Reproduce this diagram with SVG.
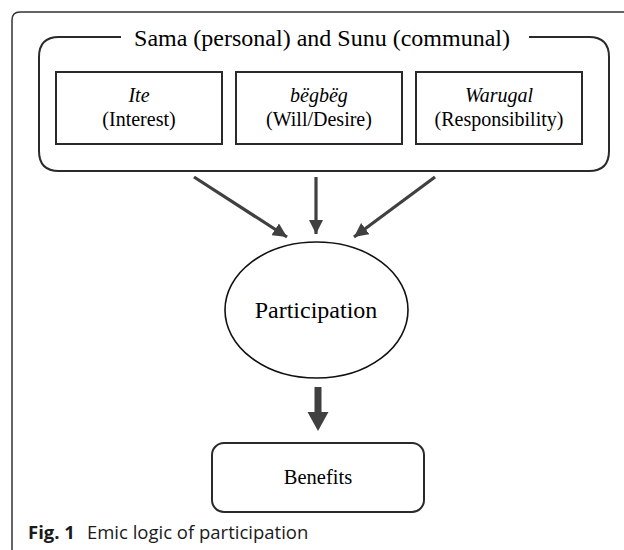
<svg xmlns="http://www.w3.org/2000/svg" width="624" height="550" viewBox="0 0 624 550">
<defs>
<style>
.serif{font-family:"Liberation Serif","Times New Roman",serif;fill:#000;}
.box{fill:none;stroke:#2a2a2a;stroke-width:2;}
.arr{stroke:#404040;stroke-width:3.2;fill:none;}
.cap{font-family:"Open Sans","Noto Sans",sans-serif;font-size:18.5px;fill:#1a1a1a;}
</style>
<marker id="ah" viewBox="0 0 10 10" refX="10" refY="5" markerWidth="4.4" markerHeight="4.4" markerUnits="strokeWidth" orient="auto">
<path d="M0,0 L10,5 L0,10 Z" fill="#404040"/>
</marker>
</defs>
<rect width="624" height="550" fill="#fff"/>
<g id="frame">
<path d="M12,550 L12,20 Q12,12 20,12 L624,12" fill="none" stroke="#333" stroke-width="1.5"/>
</g>
<g id="container">
<path d="M121,37 L59,37 Q39,37 39,57 L39,151 Q39,171 59,171 L589,171 Q609,171 609,151 L609,57 Q609,37 589,37 L529,37" class="box"/>
<text class="serif" x="322" y="46" font-size="24" text-anchor="middle">Sama (personal) and Sunu (communal)</text>
</g>
<g id="ite">
<rect x="56" y="72" width="166" height="72" class="box"/>
<text class="serif" x="139" y="102" font-size="20" text-anchor="middle" font-style="italic">Ite</text>
<text class="serif" x="139" y="126" font-size="20" text-anchor="middle">(Interest)</text>
</g>
<g id="begbeg">
<rect x="236" y="72" width="166" height="72" class="box"/>
<text class="serif" x="319" y="102" font-size="20" text-anchor="middle" font-style="italic">bëgbëg</text>
<text class="serif" x="319" y="126" font-size="20" text-anchor="middle">(Will/Desire)</text>
</g>
<g id="warugal">
<rect x="416" y="72" width="166" height="72" class="box"/>
<text class="serif" x="499" y="102" font-size="20" text-anchor="middle" font-style="italic">Warugal</text>
<text class="serif" x="499" y="126" font-size="20" text-anchor="middle">(Responsibility)</text>
</g>
<g id="participation">
<ellipse cx="316.5" cy="310" rx="91.5" ry="68" fill="none" stroke="#111" stroke-width="1.6"/>
<text class="serif" x="316" y="318" font-size="24" text-anchor="middle">Participation</text>
</g>
<g id="benefits">
<rect x="212" y="443" width="212" height="69" rx="12" ry="12" class="box"/>
<text class="serif" x="318" y="484" font-size="20.5" text-anchor="middle">Benefits</text>
</g>
<g id="connectors">
<line x1="194" y1="177" x2="287" y2="237" class="arr" marker-end="url(#ah)"/>
<line x1="316" y1="177" x2="316" y2="234" class="arr" marker-end="url(#ah)"/>
<line x1="435" y1="177" x2="354" y2="237" class="arr" marker-end="url(#ah)"/>
<rect x="314.5" y="387" width="7" height="26" fill="#404040"/>
<path d="M307.5,412 L328.5,412 L318,431 Z" fill="#404040"/>
</g>
<g id="caption">
<text class="cap" x="28" y="539"><tspan font-weight="bold">Fig. 1</tspan><tspan dx="12">Emic logic of participation</tspan></text>
</g>
</svg>
